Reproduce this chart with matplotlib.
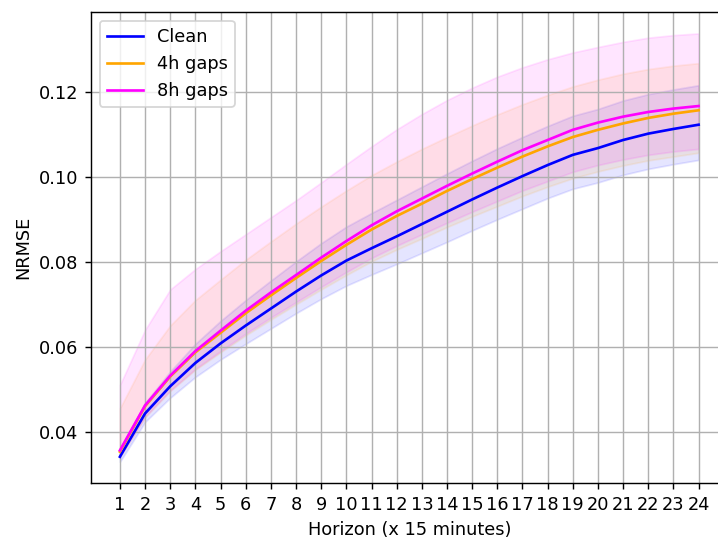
import numpy as np
import matplotlib
matplotlib.use("Agg")
import matplotlib.pyplot as plt

horizons = list(range(1, 25))

# mean NRMSE per forecast step, with lower/upper band edges
clean_mean = [0.0341, 0.0443, 0.0507, 0.0562, 0.0608, 0.0650, 0.0690, 0.0730,
              0.0768, 0.0803, 0.0832, 0.0860, 0.0889, 0.0918, 0.0947, 0.0975,
              0.1002, 0.1028, 0.1052, 0.1068, 0.1087, 0.1102, 0.1113, 0.1123]
clean_lo = [0.0329, 0.0423, 0.0480, 0.0529, 0.0570, 0.0607, 0.0643, 0.0679,
            0.0713, 0.0744, 0.0770, 0.0795, 0.0821, 0.0847, 0.0874, 0.0900,
            0.0925, 0.0950, 0.0972, 0.0987, 0.1005, 0.1019, 0.1030, 0.1040]
clean_hi = [0.0356, 0.0468, 0.0542, 0.0607, 0.0661, 0.0710, 0.0756, 0.0801,
            0.0844, 0.0883, 0.0915, 0.0946, 0.0977, 0.1008, 0.1038, 0.1067,
            0.1094, 0.1120, 0.1144, 0.1160, 0.1180, 0.1195, 0.1206, 0.1216]

gap4_mean = [0.0353, 0.0460, 0.0530, 0.0587, 0.0633, 0.0679, 0.0721, 0.0762,
             0.0802, 0.0840, 0.0876, 0.0908, 0.0937, 0.0967, 0.0995, 0.1022,
             0.1048, 0.1072, 0.1094, 0.1111, 0.1126, 0.1139, 0.1149, 0.1157]
gap4_lo = [0.0340, 0.0434, 0.0496, 0.0546, 0.0587, 0.0627, 0.0664, 0.0700,
           0.0735, 0.0769, 0.0801, 0.0829, 0.0855, 0.0882, 0.0907, 0.0931,
           0.0955, 0.0977, 0.0997, 0.1013, 0.1027, 0.1039, 0.1048, 0.1057]
gap4_hi = [0.0455, 0.0570, 0.0650, 0.0710, 0.0758, 0.0805, 0.0848, 0.0890,
           0.0930, 0.0968, 0.1004, 0.1036, 0.1066, 0.1094, 0.1121, 0.1147,
           0.1171, 0.1193, 0.1213, 0.1229, 0.1243, 0.1254, 0.1262, 0.1268]

gap8_mean = [0.0356, 0.0462, 0.0532, 0.0590, 0.0638, 0.0685, 0.0728, 0.0769,
             0.0810, 0.0849, 0.0886, 0.0919, 0.0949, 0.0979, 0.1008, 0.1036,
             0.1063, 0.1087, 0.1111, 0.1128, 0.1142, 0.1153, 0.1161, 0.1167]
gap8_lo = [0.0341, 0.0435, 0.0497, 0.0548, 0.0590, 0.0631, 0.0669, 0.0705,
           0.0741, 0.0776, 0.0809, 0.0838, 0.0865, 0.0892, 0.0918, 0.0943,
           0.0968, 0.0990, 0.1012, 0.1028, 0.1041, 0.1052, 0.1060, 0.1066]
gap8_hi = [0.0510, 0.0640, 0.0735, 0.0783, 0.0825, 0.0865, 0.0905, 0.0945,
           0.0987, 0.1030, 0.1072, 0.1112, 0.1148, 0.1181, 0.1210, 0.1236,
           0.1258, 0.1277, 0.1293, 0.1306, 0.1318, 0.1328, 0.1334, 0.1338]

series = [
    ("Clean",   "blue",    clean_mean, clean_lo, clean_hi),
    ("4h gaps", "orange",  gap4_mean,  gap4_lo,  gap4_hi),
    ("8h gaps", "magenta", gap8_mean,  gap8_lo,  gap8_hi),
]

DPI = 128
fig = plt.figure(figsize=(718 / DPI, 538 / DPI), dpi=DPI)
# axes run past the right edge of the canvas
ax = fig.add_axes([0.1267, 0.1017, 0.8866, 0.876])

for label, color, mean, lo, hi in series:
    ax.plot(horizons, mean, color=color, lw=1.5, label=label)
    ax.fill_between(horizons, lo, hi, color=color, alpha=0.1)

ax.set_xticks(horizons)
ax.set_xlabel("Horizon (x 15 minutes)")
ax.set_ylabel("NRMSE")
ax.grid(True)
ax.legend(loc="upper left")

fig.savefig("out.png", dpi=DPI)
